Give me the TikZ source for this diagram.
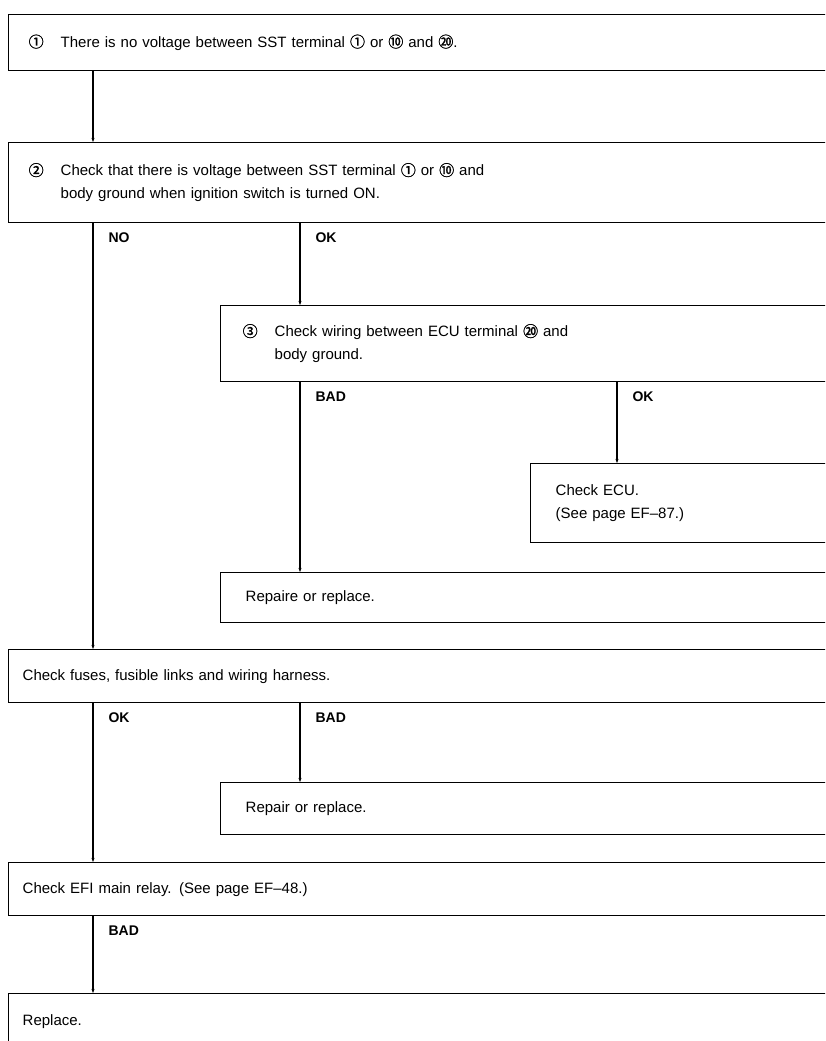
\documentclass[tikz,border=0pt]{standalone}
\usepackage{fontspec}
\setmainfont{Liberation Sans}
\newfontfamily\circfont{Noto Sans CJK JP}[FakeBold=1.5]
\usetikzlibrary{arrows.meta}

% numbered check: circled number, then hanging text
\newcommand{\numchk}[2]{\begin{tabular}[c]{@{}p{32pt}@{}l@{}}{\circfont #1} & #2\end{tabular}}
\newcommand{\cn}[1]{{\circfont #1}}

\tikzset{
  box/.style={draw, line width=1.4pt, anchor=north west, align=left, inner ysep=0pt,
    font=\fontsize{15}{23}\selectfont},
  link/.style={line width=1.1pt, -{Stealth[length=4pt,width=3pt]}},
  lbl/.style={anchor=north west, font=\fontsize{14}{16}\selectfont\bfseries,
    inner sep=0pt, xshift=15pt, yshift=-9pt}
}

\begin{document}
\begin{tikzpicture}[x=1pt,y=-1pt]
  \useasboundingbox (0,0) rectangle (825,1041);
  \clip (0,0) rectangle (825,1041);
  \fill[white] (0,0) rectangle (825,1041);

  % columns of the connectors
  \coordinate (colA) at (93,0);
  \coordinate (colB) at (300,0);
  \coordinate (colC) at (617,0);

  \node[box, minimum height=56pt, inner xsep=20pt, text width=802pt] (chk1) at (8,14)
    {\numchk{①}{There is no voltage between SST terminal \cn{①} or \cn{⑩} and \cn{⑳}.}};
  \node[box, minimum height=80pt, inner xsep=20pt, text width=802pt] (chk2) at (8,142)
    {\numchk{②}{Check that there is voltage between SST terminal \cn{①} or \cn{⑩} and\\
      & body ground when ignition switch is turned ON.}};
  \node[box, minimum height=76pt, inner xsep=22pt, text width=586pt] (chk3) at (220,305)
    {\numchk{③}{Check wiring between ECU terminal \cn{⑳} and\\ & body ground.}};
  \node[box, minimum height=79pt, inner xsep=25pt, text width=270pt] (ecu) at (530,463)
    {Check ECU.\\(See page EF--87.)};
  \node[box, minimum height=50pt, inner xsep=25pt, text width=580pt] (rep1) at (220,572)
    {Repaire or replace.};
  \node[box, minimum height=53pt, inner xsep=14pt, text width=814pt] (fuse) at (8,649)
    {Check fuses, fusible links and wiring harness.};
  \node[box, minimum height=52pt, inner xsep=25pt, text width=580pt] (rep2) at (220,782)
    {Repair or replace.};
  \node[box, minimum height=53pt, inner xsep=14pt, text width=814pt] (relay) at (8,862)
    {Check EFI main relay. (See page EF--48.)};
  \node[box, minimum height=56pt, inner xsep=14pt, text width=814pt] (repl) at (8,993)
    {Replace.};

  % connectors
  \draw[link] (chk1.south -| colA) -- (chk2.north -| colA);
  \draw[link] (chk2.south -| colA) node[lbl]{NO} -- (fuse.north -| colA);
  \draw[link] (chk2.south -| colB) node[lbl]{OK} -- (chk3.north -| colB);
  \draw[link] (chk3.south -| colB) node[lbl]{BAD} -- (rep1.north -| colB);
  \draw[link] (chk3.south -| colC) node[lbl]{OK} -- (ecu.north -| colC);
  \draw[link] (fuse.south -| colA) node[lbl]{OK} -- (relay.north -| colA);
  \draw[link] (fuse.south -| colB) node[lbl]{BAD} -- (rep2.north -| colB);
  \draw[link] (relay.south -| colA) node[lbl]{BAD} -- (repl.north -| colA);
\end{tikzpicture}
\end{document}
